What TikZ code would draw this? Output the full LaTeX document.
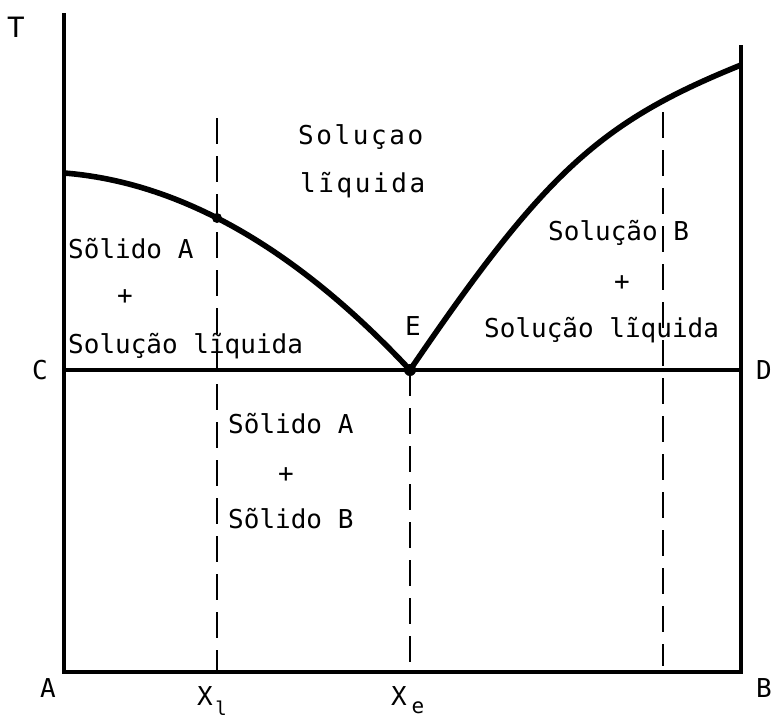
\documentclass[tikz,border=0pt]{standalone}
\usepackage{fontspec}
\setmainfont{DejaVu Sans Mono}
\newfontfamily\spacedfont[LetterSpace=10]{DejaVu Sans Mono}
\newfontfamily\serifmono{Liberation Mono}
\begin{document}
\begin{tikzpicture}[x=1pt,y=-1pt,
  axis/.style={line width=3.2pt},
  liq/.style={line width=5.6pt},
  guide/.style={line width=2pt, dash pattern=on 26pt off 12pt},
  txt/.style={font=\fontsize{26}{30}\selectfont, inner sep=0pt, anchor=base west},
  spc/.style={font=\spacedfont\fontsize{26}{30}\selectfont, inner sep=0pt, anchor=base west},
  plus/.style={font=\fontsize{26}{30}\selectfont, inner sep=0pt},
  corner/.style={font=\fontsize{26}{30}\selectfont, inner sep=0pt},
]
\useasboundingbox (0,0) rectangle (774,720);
% key points
\coordinate (T0) at (64,13);
\coordinate (A0) at (64,672);
\coordinate (B0) at (741,672);
\coordinate (B1) at (741,45);
\coordinate (C0) at (64,370);
\coordinate (D0) at (741,370);
\coordinate (E0) at (410,370);
\coordinate (L0) at (64,173);
\coordinate (R1) at (741,65);
\coordinate (P) at (217,218);
\coordinate (XlT) at (217,118);
\coordinate (XlB) at (217,672);
\coordinate (XeB) at (410,672);
\coordinate (XrT) at (663,112);
\coordinate (XrB) at (663,666);
% axes and frame
\draw[axis] (T0) -- (A0) -- (B0) -- (B1);
\draw[axis] (C0) -- (D0);
% dashed composition lines
\draw[guide] (XlT) -- (XlB);
\draw[guide] (E0) -- (XeB);
\draw[guide] (XrT) -- (XrB);
% liquidus curves
\draw[liq] (L0) .. controls (179,182) and (295,247) .. (E0);
\draw[liq] (E0) .. controls (545,172) and (600,122) .. (R1);
\fill (P) circle (5);
\fill (E0) circle (6);
% corner letters
\node[corner, font=\serifmono\fontsize{31}{34}\selectfont] (T) at (16,27) {T};
\node[corner] (C) at (40,370) {C};
\node[corner, anchor=west] (D) at (756,370) {D};
\node[corner] (A) at (48,688) {A};
\node[corner, anchor=west] (B) at (756,688) {B};
\node[txt] (E) at (405,335) {E};
% x labels
\node[corner] (Xl) at (205,696) {X};
\node[corner, font=\fontsize{19}{22}\selectfont] (Xlsub) at (221,708) {l};
\node[corner] (Xe) at (399,696) {X};
\node[corner, font=\fontsize{21}{24}\selectfont] (Xesub) at (418,708) {e};
% region labels
\node[spc] (liq1) at (298,144) {Soluçao};
\node[spc] (liq2) at (300,192) {lĩquida};
\node[txt] (sa1) at (68,258) {Sõlido A};
\node[plus] (pa1) at (125,297) {+};
\node[txt] (sl1) at (68,353) {Solução lĩquida};
\node[txt] (sb1) at (548,240) {Solução B};
\node[plus] (pb1) at (622,283) {+};
\node[txt] (sl2) at (484,337) {Solução lĩquida};
\node[txt] (sa2) at (228,433) {Sõlido A};
\node[plus] (pc1) at (286,475) {+};
\node[txt] (sb2) at (228,528) {Sõlido B};
\end{tikzpicture}
\end{document}
